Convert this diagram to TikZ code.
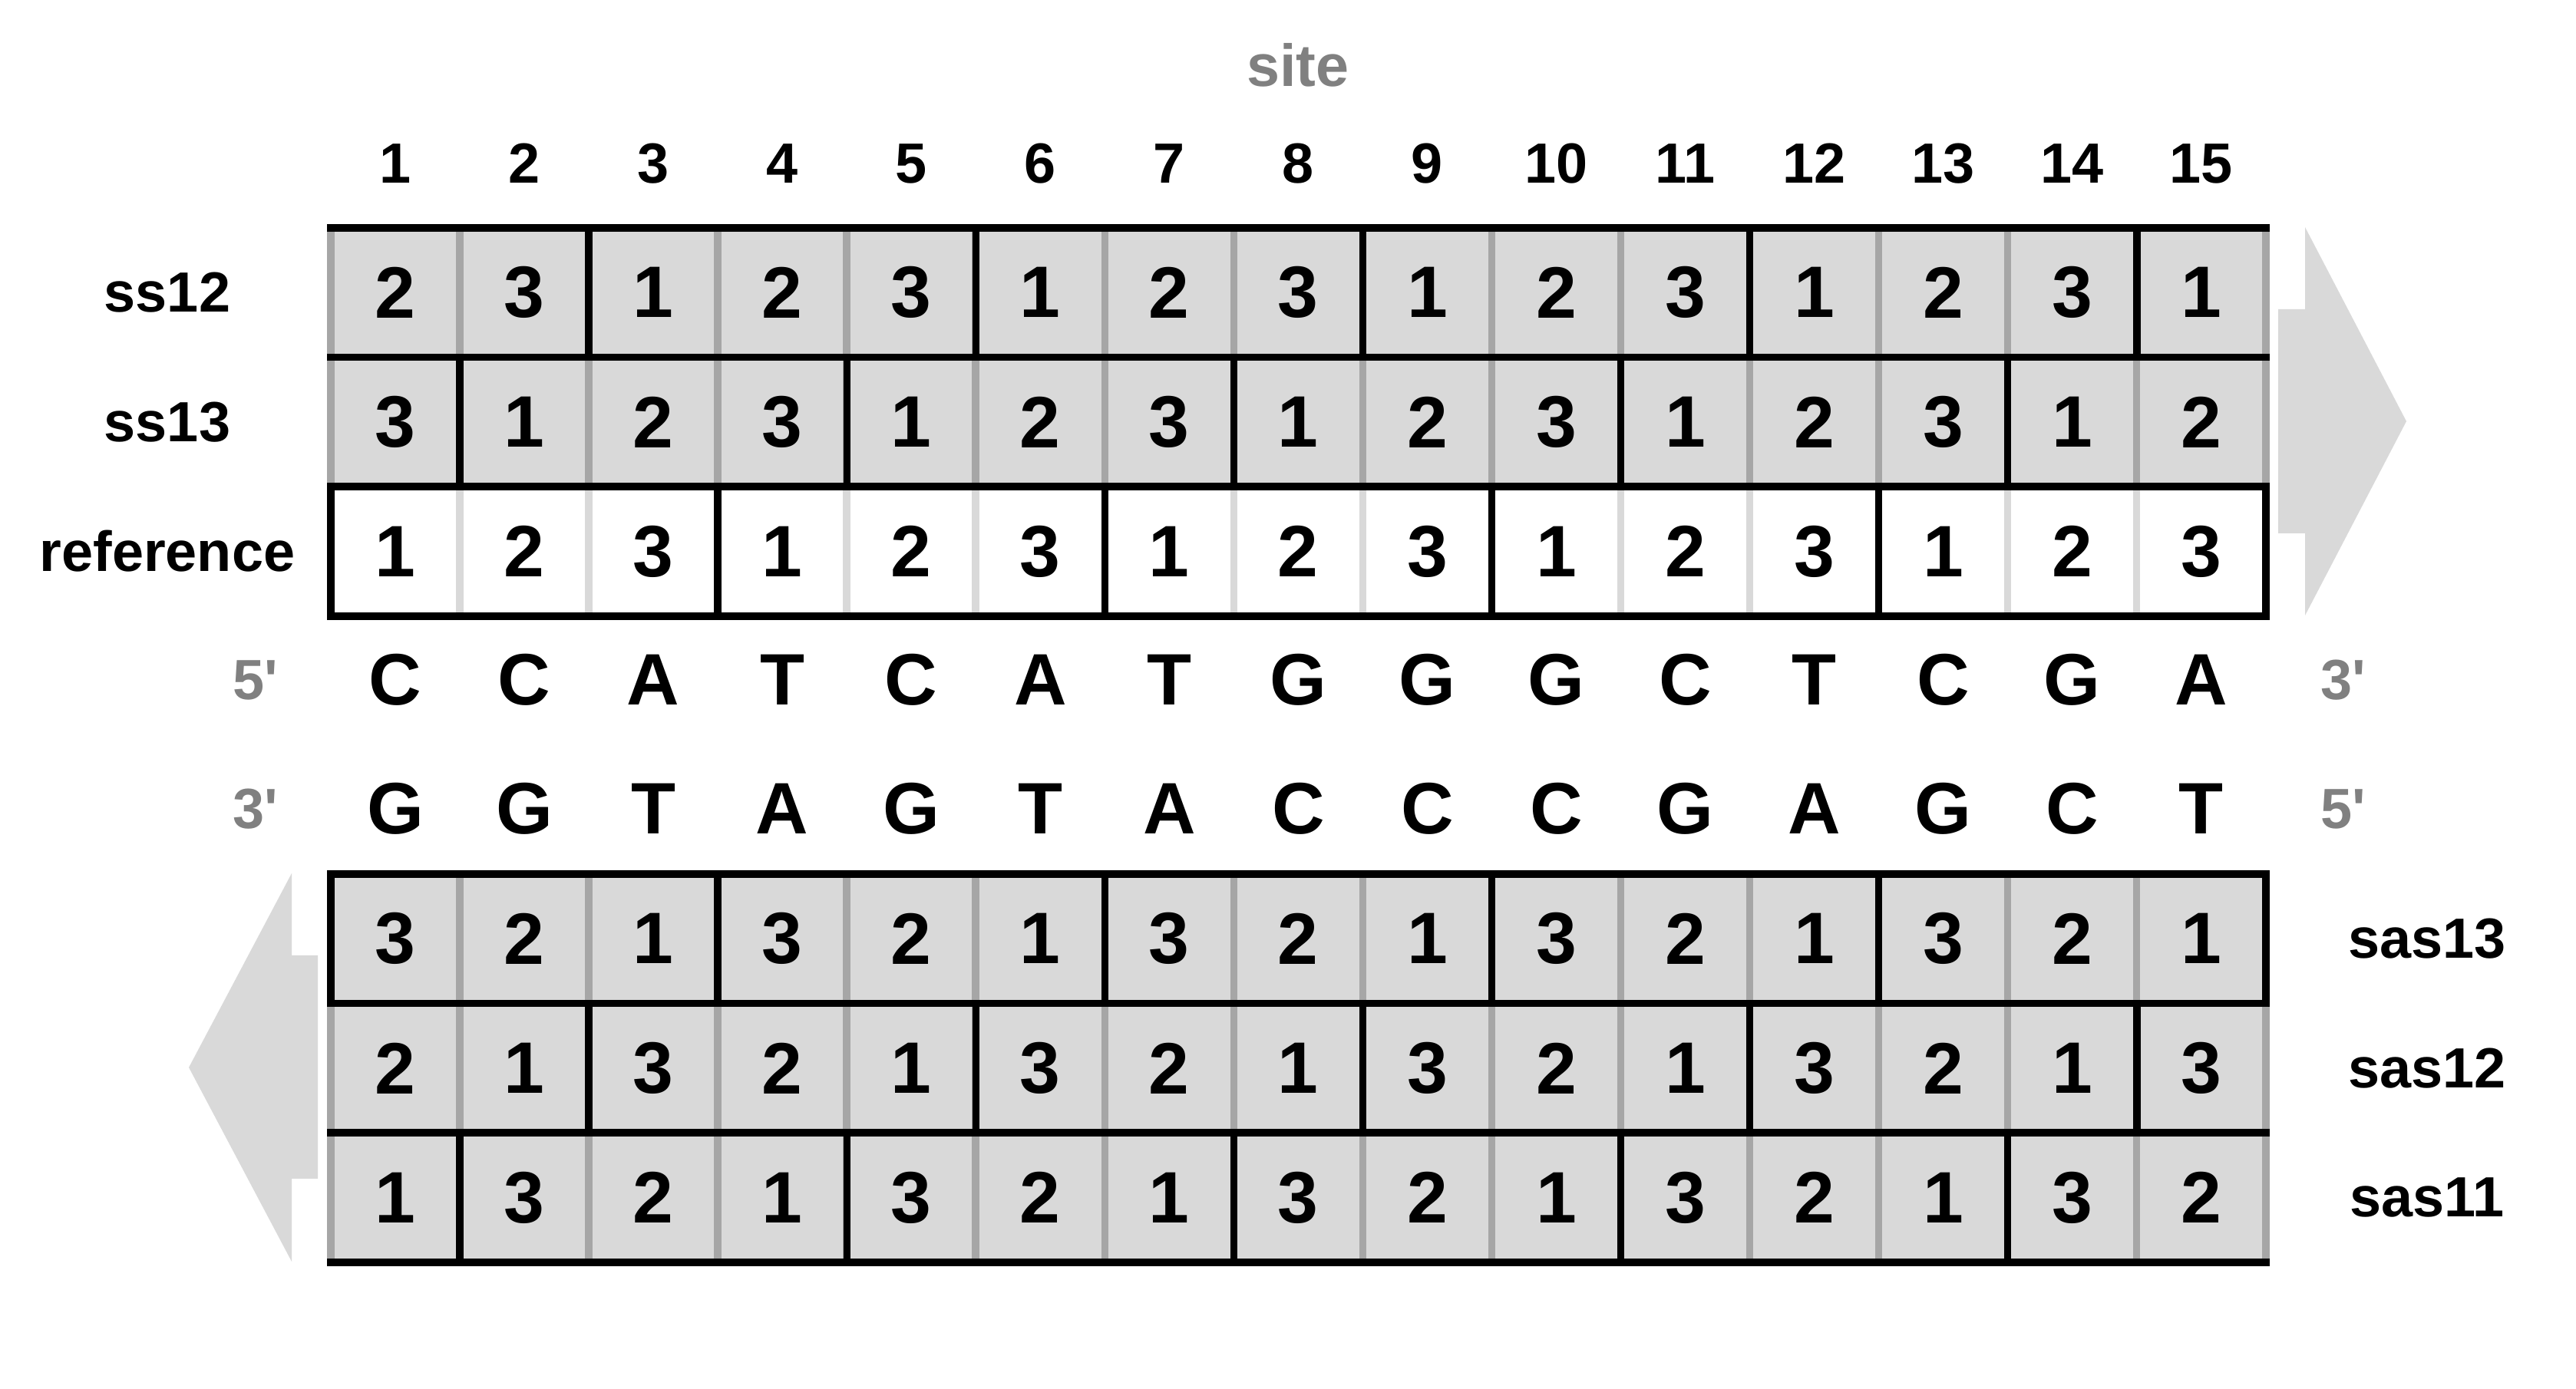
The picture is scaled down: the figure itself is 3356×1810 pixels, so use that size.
\documentclass[tikz,border=0pt]{standalone}
\usepackage{fontspec}
\setmainfont{Liberation Sans}
\definecolor{cellgray}{HTML}{D9D9D9}
\definecolor{sepgray}{HTML}{A6A6A6}
\definecolor{labelgray}{HTML}{808080}
\newcommand{\cellfont}{\fontsize{27pt}{32pt}\selectfont\bfseries}
\newcommand{\labfont}{\fontsize{21pt}{25pt}\selectfont\bfseries}
\newcommand{\sitefont}{\fontsize{22pt}{26pt}\selectfont\bfseries}
\newcommand{\strandend}{\textquotesingle}

\begin{document}
\begin{tikzpicture}[x=0.01cm, y=-0.01cm]
        \tikzstyle{every node}=[inner sep=0pt, outer sep=0pt];
        \tikzstyle{cell}=[draw=sepgray, fill=cellgray, line width=0.095cm, minimum width=1.6805cm, minimum height=1.686cm, font=\cellfont];
        \tikzstyle{refcell}=[cell, draw=cellgray, fill=white];
        \tikzstyle{codon}=[black, line width=0.095cm, line cap=rect];
        \tikzstyle{lab}=[font=\labfont];
        \tikzstyle{endlab}=[font=\labfont, text=labelgray];
        \useasboundingbox (0,0) rectangle (3356,1810);

        % site numbers and cells
        \node[font=\sitefont, text=labelgray, anchor=base] (site) at (1691,113) {site};
        \foreach \i in {1,...,15} {
            \pgfmathsetmacro{\cx}{431+(\i-0.5)*168.05}
            \pgfmathtruncatemacro{\vssb}{mod(\i,3)+1}
            \pgfmathtruncatemacro{\vssc}{mod(\i+1,3)+1}
            \pgfmathtruncatemacro{\vref}{mod(\i-1,3)+1}
            \pgfmathtruncatemacro{\vsasc}{3-mod(\i-1,3)}
            \pgfmathtruncatemacro{\vsasb}{3-mod(\i,3)}
            \pgfmathtruncatemacro{\vsasa}{3-mod(\i+1,3)}
            \node[font=\labfont] (num-\i) at (\cx,213) {\i};
            \node[cell] (ss12-\i) at (\cx,381.3) {\vssb};
            \node[cell] (ss13-\i) at (\cx,549.9) {\vssc};
            \node[refcell] (ref-\i) at (\cx,718.5) {\vref};
            \node[cell] (sas13-\i) at (\cx,1223.3) {\vsasc};
            \node[cell] (sas12-\i) at (\cx,1391.9) {\vsasb};
            \node[cell] (sas11-\i) at (\cx,1560.5) {\vsasa};
        }

        % codon borders
        \draw[codon] (ss12-1.north west) -- (ss12-15.north east);
        \foreach \r in {ss12,ss13,ref,sas13,sas12,sas11}
            \draw[codon] (\r-1.south west) -- (\r-15.south east);
        \draw[codon] (sas13-1.north west) -- (sas13-15.north east);
        \foreach \i in {2,5,8,11,14} {
            \draw[codon] (ss12-\i.north east) -- (ss12-\i.south east);
            \draw[codon] (sas12-\i.north east) -- (sas12-\i.south east);
        }
        \foreach \i in {1,4,7,10,13} {
            \draw[codon] (ss13-\i.north east) -- (ss13-\i.south east);
            \draw[codon] (sas11-\i.north east) -- (sas11-\i.south east);
        }
        \foreach \i in {3,6,9,12,15} {
            \draw[codon] (ref-\i.north east) -- (ref-\i.south east);
            \draw[codon] (sas13-\i.north east) -- (sas13-\i.south east);
        }
        \draw[codon] (ref-1.north west) -- (ref-1.south west);
        \draw[codon] (sas13-1.north west) -- (sas13-1.south west);

        % strands
        \foreach \i/\fwd/\rev in {1/C/G,2/C/G,3/A/T,4/T/A,5/C/G,6/A/T,7/T/A,8/G/C,9/G/C,10/G/C,11/C/G,12/T/A,13/C/G,14/G/C,15/A/T} {
            \node[font=\cellfont] (fwd-\i) at (num-\i |- 0,886) {\fwd};
            \node[font=\cellfont] (rev-\i) at (num-\i |- 0,1054) {\rev};
        }
        \node[endlab] (fwd-five) at (333,886) {5\strandend};
        \node[endlab] (fwd-three) at (3053,886) {3\strandend};
        \node[endlab] (rev-three) at (333,1054) {3\strandend};
        \node[endlab] (rev-five) at (3053,1054) {5\strandend};

        % row labels
        \node[lab] (lab-ss12) at (218,381.3) {ss12};
        \node[lab] (lab-ss13) at (218,549.9) {ss13};
        \node[lab] (lab-ref) at (218,718.5) {reference};
        \node[lab] (lab-sas13) at (3162,1223.3) {sas13};
        \node[lab] (lab-sas12) at (3162,1391.9) {sas12};
        \node[lab] (lab-sas11) at (3162,1560.5) {sas11};

        % direction arrows
        \fill[cellgray] (2968,403) -- (3003,403) -- (3003,296) -- (3135,549) -- (3003,802) -- (3003,695) -- (2968,695) -- cycle;
        \fill[cellgray] (414,1245) -- (380,1245) -- (380,1138) -- (246,1391) -- (380,1644) -- (380,1536) -- (414,1536) -- cycle;
    \end{tikzpicture}
\end{document}
